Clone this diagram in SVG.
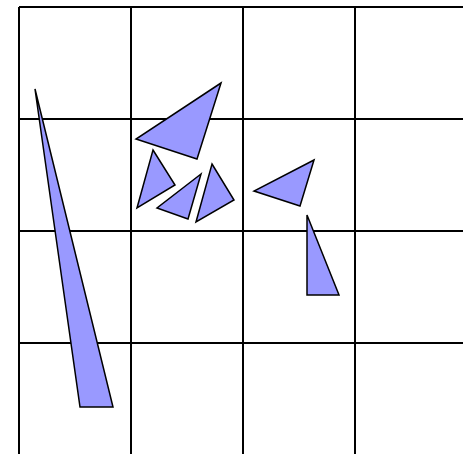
<svg xmlns="http://www.w3.org/2000/svg" width="463" height="454" viewBox="0 0 463 454">
<style>
.g{stroke:#000;stroke-width:2;fill:none}
.t{fill:#9999ff;stroke:#000;stroke-width:1.5;stroke-linejoin:miter}
</style>
<rect width="463" height="454" fill="#fff"/>
<g id="grid" class="g">
<path d="M19,7H463M19,119H463M19,231H463M19,343H463"/>
<path d="M19,7V454M131,7V454M243,7V454M355,7V454"/>
</g>
<g id="tri1"><polygon class="t" points="35,89 80,407 113,407"/></g>
<g id="tri2"><polygon class="t" points="221,83 136,139 197,159"/></g>
<g id="tri3"><polygon class="t" points="153,150 175,185 137,208"/></g>
<g id="tri4"><polygon class="t" points="201,174 157,208 188,219"/></g>
<g id="tri5"><polygon class="t" points="212,164 234,200 196,222"/></g>
<g id="tri6"><polygon class="t" points="314,160 254,191 300,206"/></g>
<g id="tri7"><polygon class="t" points="307,215 339,295 307,295"/></g>
</svg>
